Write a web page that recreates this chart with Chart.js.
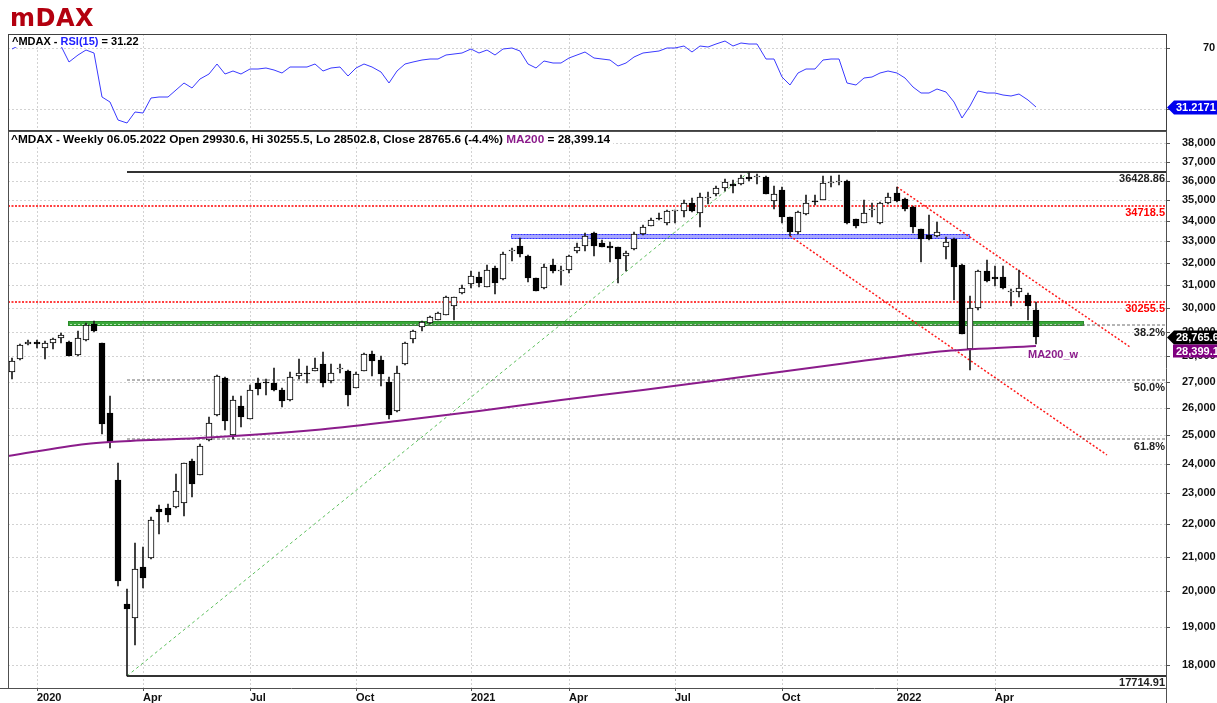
<!DOCTYPE html>
<html><head><meta charset="utf-8">
<script src="https://cdn.jsdelivr.net/npm/chart.js@4.4.1/dist/chart.umd.min.js"></script>
<style>
html,body{margin:0;padding:0;background:#fff;}
#wrap{position:relative;width:1217px;height:703px;overflow:hidden;background:#fff;}
canvas{position:absolute;left:0;top:0;}
#title{position:absolute;left:10px;top:6px;font:bold 24px 'DejaVu Sans',sans-serif;line-height:24px;color:#b3000f;letter-spacing:0.5px;}
</style></head>
<body><div id="wrap">
<canvas id="main" width="1217" height="703"></canvas>
<canvas id="rsi" width="1217" height="703"></canvas>
<div id="title">mDAX</div>
</div>
<script>
// ---------- DATA ----------
const opens = [27384,27880,28480,28570,28310,28520,28730,28560,28040,28650,
29300,28520,25800,23450,19620,19230,20700,20960,22500,22540,
22570,22680,24100,23620,24830,25720,27120,25020,26080,25600,
26960,27000,26960,26660,26280,27220,27320,27420,27670,27030,
27470,27420,26750,27420,28070,27850,26990,25870,27680,28690,
29200,29360,29500,29710,30090,30640,31045,31380,30925,31760,
31260,32560,32790,32330,31300,30860,31900,31620,31680,32570,
32790,33420,32920,32800,32730,32310,32640,33360,33740,34140,
33900,34480,34450,34860,34370,35100,35310,35610,35830,35830,
36210,36170,36210,34990,35530,34170,33430,34320,34950,35020,
35880,35930,36000,34060,33900,34500,33870,34860,35360,35070,
34670,33580,33310,33270,32760,33120,31910,28280,29990,31650,
31350,31380,30680,30680,30550,29930.6];
const highs = [27910,28500,28640,28640,28610,28740,28950,28600,29040,29380,
29440,28550,26440,24020,20050,21420,21300,22230,22610,22640,
23650,24030,24150,24680,25680,27260,27190,26440,26440,26850,
27120,27110,27520,26750,27370,27870,27600,27940,28170,27700,
27700,27450,27380,28110,28200,28000,27190,27600,28580,29060,
29450,29650,29830,30500,30480,31000,31640,31600,31910,31860,
32510,32690,33150,32350,31320,31950,32190,31860,32350,32920,
33390,33450,33070,32990,32760,32570,33450,33790,34130,34390,
34510,34520,35020,35100,35360,35440,35720,36100,36040,36300,
36428.86,36330,36250,35730,35700,34200,34450,35280,35280,36240,
36240,36300,36020,34100,35020,34860,34930,35390,35670,35100,
34700,33600,34300,33950,33230,33150,31950,30520,31700,32140,
31860,31860,30810,31680,30660,30255.5];
const lows = [27086,27860,28440,28340,27900,28270,28520,27990,28000,28620,
28990,25060,24530,20150,17714.91,18520,20100,20950,21710,22090,
22540,22280,22880,23600,24800,25700,25200,24850,25300,25580,
26500,26500,26640,26050,26260,27100,26960,27400,26780,26960,
27350,26060,26740,27400,27220,26820,25590,25850,27660,28540,
29010,29300,29480,29700,29500,30600,30860,30900,30900,30610,
31240,32100,32270,31150,30720,30840,31530,31000,31530,32450,
32530,32310,32720,32060,31080,31650,32600,33310,33720,34040,
33790,33900,34190,34420,33700,34800,35200,35500,35390,35800,
36000,35830,35320,34570,33900,33260,33350,34280,34770,35000,
35700,35780,33860,33630,33880,34190,33850,34840,34900,34450,
33390,32060,33080,33200,32190,30340,28900,27450,29910,31150,
30950,30840,30100,30460,29470,28502.8];
const closes = [27804,28470,28570,28480,28520,28710,28870,28000,28730,29270,
29010,25400,24770,20290,19500,20650,20370,22150,22390,22290,
23080,24010,23330,24620,25440,27230,25530,26310,25650,26660,
26710,26960,26660,26250,27160,27350,27300,27530,26930,27350,
27540,26480,27280,28070,27800,27290,25740,27350,28550,29040,
29400,29610,29800,30465,30465,30860,31395,31080,31680,31100,
32420,32620,32420,31300,30740,31800,31640,31650,32330,32760,
33280,32790,32760,32710,32190,32460,33360,33710,34030,34060,
34490,34500,34860,34490,35190,35190,35610,35950,35730,36120,
36070,36190,35330,35330,34190,33430,34420,34860,34910,35880,
35920,35960,33870,33740,34390,34540,34860,35160,34990,34570,
33680,33120,33120,33450,32990,31830,28920,29990,31640,31200,
31260,30860,30710,30860,30100,28765.6];
const rsi15 = [69.1,72,74,73,73,74,71,61.0,65.4,68.7,
66.5,37.9,34.8,22.8,21.0,27.8,27.2,37.0,38.1,38.1,
42.5,46.9,44.0,49.5,52.8,59.3,53.0,55.1,52.8,56.0,
56.0,57.1,55.6,53.8,57.3,57.7,57.7,59.3,55.1,57.1,
57.7,51.8,56.7,59.3,57.3,54.3,46.9,54.9,59.3,61.0,
62.1,62.6,62.6,65.1,66.1,66.9,69.1,66.5,68.7,65.1,
69.3,70.3,68.0,59.8,56.7,61.3,60.4,60.0,63.2,65.4,
67.1,63.2,62.8,62.1,58.2,60.0,64.3,66.5,67.6,68.0,
69.8,70.2,71.3,67.6,71.3,70.9,72.6,74.6,71.3,73.5,
72.6,72.6,62.6,62.6,51.2,45.7,53.4,56.0,56.2,62.1,
62.8,62.6,46.9,45.7,50.1,50.8,53.4,55.1,53.8,50.1,
44.2,40.7,40.7,43.3,41.0,34.8,24.3,32.0,42.0,40.7,
40.7,39.0,38.5,39.8,35.9,31.22];
const maIdx  = [-0.49, 9, 12, 23, 37, 47, 57, 67, 77, 90, 102, 114, 125];
const maVals = [24276, 24672, 24759, 24897, 25185, 25530, 25890, 26302, 26680, 27216, 27740, 28208, 28399.14];
const xTickIdx = [3, 16, 29, 42, 56, 68, 81, 94, 108, 120];
const xTickLabels = ['2020','Apr','Jul','Oct','2021','Apr','Jul','Oct','2022','Apr'];
const priceTicks = [18000,19000,20000,21000,22000,23000,24000,25000,26000,27000,28000,29000,30000,31000,32000,33000,34000,35000,36000,37000,38000];
const rsiTicks = [30, 70];
const fibHigh = 36428.86, fibLow = 17714.91;
const fibRatios = [0.382, 0.5, 0.618];
const fibLabels = ['38.2%', '50.0%', '61.8%'];
const redLevels = [34718.5, 30255.5];
const blueZone = [60.9, 117, 33095, 33360];
const greenZone = [6.85, 130.9, 29250, 29440];
const greenTrend = [[14, 17714.91], [90, 36428.86]];
const redTrendA = [[108, 35670], [136.5, 28380]];
const redTrendB = [[95, 33240], [133.7, 24310]];
const lastRsi = 31.2171;
const ma200Last = 28399.14;
const mainHeader = [['^MDAX - Weekly 06.05.2022 Open 29930.6, Hi 30255.5, Lo 28502.8, Close 28765.6 (-4.4%) ', '#000'], ['MA200', '#8b1c8b'], [' = 28,399.14', '#000']];
const rsiHeader = [['^MDAX - ', '#000'], ['RSI(15)', '#2020ff'], [' = 31.22', '#000']];

// ---------- STYLE ----------
const FONT = "'Liberation Sans', Arial, sans-serif";
const X_MIN = -0.49, X_MAX = 140.9;
const P_MIN = 17405, P_MAX = 38659;
const R_MIN = 16.23, R_MAX = 79.18;
const PURPLE = '#8b1c8b';

function segText(ctx, segs, x, y) {
  let cx = x;
  for (const [s, c] of segs) { ctx.fillStyle = c; ctx.fillText(s, cx, y); cx += ctx.measureText(s).width; }
  return cx - x;
}
function label(ctx, s, x, y, color, align) {
  ctx.save(); ctx.font = 'bold 11px ' + FONT; ctx.fillStyle = color; ctx.textAlign = align || 'left';
  ctx.textBaseline = 'middle'; ctx.fillText(s, x, y); ctx.restore();
}
function tag(ctx, s, yc, fill, arrow, left) {
  ctx.save();
  ctx.fillStyle = fill;
  ctx.beginPath();
  if (arrow) {
    ctx.moveTo(1167, yc); ctx.lineTo(1174, yc - 7); ctx.lineTo(1217, yc - 7); ctx.lineTo(1217, yc + 7); ctx.lineTo(1174, yc + 7);
  } else {
    ctx.rect(left, yc - 6.5, 1217 - left, 13);
  }
  ctx.closePath(); ctx.fill();
  ctx.font = 'bold 11px ' + FONT; ctx.fillStyle = '#fff'; ctx.textBaseline = 'middle';
  ctx.fillText(s, arrow ? 1176 : left + 3, yc + 0.5);
  ctx.restore();
}
function noPad(s) { s.paddingTop = 0; s.paddingBottom = 0; s.paddingLeft = 0; s.paddingRight = 0; }

const lineDs = (pts, color, width, dash, order) => ({
  type: 'line', data: pts.map(p => ({x: p[0], y: p[1]})), borderColor: color, borderWidth: width,
  borderDash: dash, pointRadius: 0, order: order, fill: false, tension: 0
});

const xScaleCommon = (showTicks, h) => ({
  type: 'linear', min: X_MIN, max: X_MAX, offset: false, alignToPixels: true,
  afterBuildTicks: s => { s.ticks = xTickIdx.map(v => ({value: v})); },
  afterFit: s => { s.height = h; noPad(s); },
  ticks: { display: showTicks, align: 'start', padding: 0, maxRotation: 0, autoSkip: false,
    color: '#111', font: {family: FONT, size: 11, weight: 'bold'},
    callback: (v, i) => xTickLabels[i] },
  grid: { offset: false, color: '#d2d2d2', lineWidth: 1, drawTicks: showTicks, tickLength: 3, tickColor: '#555', tickBorderDash: [] },
  border: { display: false, dash: [2, 2] }
});

// ---------- MAIN CHART ----------
const N = opens.length;
const bodyData = opens.map((o, i) => ({x: i, y: [o, closes[i]]}));
const wickData = lows.map((l, i) => ({x: i, y: [l, highs[i]]}));
const bodyColors = opens.map((o, i) => closes[i] >= o ? '#ffffff' : '#000000');

const datasets = [
  {type: 'bar', data: bodyData, backgroundColor: bodyColors, borderColor: '#000', borderWidth: 1,
   borderSkipped: false, barThickness: 6, grouped: false, minBarLength: 1, order: 1},
  {type: 'bar', data: wickData, backgroundColor: '#1a1a1a', borderWidth: 0, barThickness: 1, grouped: false, order: 2},
  {type: 'line', data: maIdx.map((x, k) => ({x: x, y: maVals[k]})), borderColor: PURPLE, borderWidth: 2,
   pointRadius: 0, cubicInterpolationMode: 'monotone', order: 0, fill: false},
  lineDs([[14, fibHigh], [X_MAX, fibHigh]], '#333', 2, [], 5),
  lineDs([[14, fibLow], [X_MAX, fibLow]], '#333', 2, [], 5),
  ...fibRatios.map(r => lineDs([[14, fibHigh - r * (fibHigh - fibLow)], [X_MAX, fibHigh - r * (fibHigh - fibLow)]], '#6a6a6a', 1, [3, 2], 5)),
  ...redLevels.map(v => lineDs([[X_MIN, v], [X_MAX, v]], '#ff0000', 1.5, [2, 1.5], 5)),
  lineDs(greenTrend, '#5cbf5c', 1, [3, 3], 5),
  lineDs(redTrendA, '#ff1a1a', 1.5, [2, 2], 5),
  lineDs(redTrendB, '#ff1a1a', 1.5, [2, 2], 5)
];

const mainPlugin = {
  id: 'mainDecor',
  beforeDatasetsDraw(chart) {
    const {ctx, scales: {x, y}, chartArea: a} = chart;
    ctx.save();
    ctx.beginPath(); ctx.rect(a.left, a.top, a.right - a.left, a.bottom - a.top); ctx.clip();
    // blue zone
    let x1 = x.getPixelForValue(blueZone[0]), x2 = x.getPixelForValue(blueZone[1]);
    let y1 = y.getPixelForValue(blueZone[3]), y2 = y.getPixelForValue(blueZone[2]);
    ctx.fillStyle = 'rgba(110,110,255,0.6)'; ctx.fillRect(x1, y1, x2 - x1, y2 - y1);
    ctx.setLineDash([2, 1]); ctx.strokeStyle = '#3030ff'; ctx.lineWidth = 1;
    ctx.strokeRect(x1 + 0.5, y1 + 0.5, x2 - x1 - 1, y2 - y1 - 1);
    // green zone
    x1 = x.getPixelForValue(greenZone[0]); x2 = x.getPixelForValue(greenZone[1]);
    y1 = y.getPixelForValue(greenZone[3]); y2 = y.getPixelForValue(greenZone[2]);
    ctx.setLineDash([]);
    ctx.fillStyle = '#3aa83a'; ctx.fillRect(x1, y1, x2 - x1, y2 - y1);
    ctx.strokeStyle = '#2a8a2a'; ctx.strokeRect(x1 + 0.5, y1 + 0.5, x2 - x1 - 1, y2 - y1 - 1);
    ctx.setLineDash([2, 2]); ctx.strokeStyle = '#b8e8b8';
    ctx.beginPath(); const ym = Math.round((y1 + y2) / 2) + 0.5; ctx.moveTo(x1 + 2, ym); ctx.lineTo(x2 - 2, ym); ctx.stroke();
    ctx.restore();
  },
  afterDatasetsDraw(chart) {
    const {ctx, scales: {x, y}, chartArea: a} = chart;
    const rx = a.right - 1;
    label(ctx, fibHigh.toFixed(2), rx, y.getPixelForValue(fibHigh) + 7, '#222', 'right');
    label(ctx, fibLow.toFixed(2), rx, y.getPixelForValue(fibLow) + 7, '#222', 'right');
    fibRatios.forEach((r, k) => {
      const v = fibHigh - r * (fibHigh - fibLow);
      label(ctx, fibLabels[k], rx, y.getPixelForValue(v) + 8, '#222', 'right');
    });
    redLevels.forEach(v => label(ctx, String(v), rx, y.getPixelForValue(v) + 7, '#ff0000', 'right'));
    label(ctx, 'MA200_w', x.getPixelForValue(maIdx[maIdx.length - 1] - 1), y.getPixelForValue(ma200Last) + 9, PURPLE, 'left');
  },
  afterDraw(chart) {
    const {ctx, scales: {y}, chartArea: a} = chart;
    ctx.save();
    ctx.strokeStyle = '#505050'; ctx.lineWidth = 1; ctx.setLineDash([]);
    ctx.beginPath();
    ctx.moveTo(a.left, a.top + 0.5); ctx.lineTo(a.right, a.top + 0.5);
    ctx.moveTo(a.left + 0.5, a.top); ctx.lineTo(a.left + 0.5, a.bottom);
    ctx.moveTo(0, a.bottom + 0.5); ctx.lineTo(a.right, a.bottom + 0.5);
    ctx.moveTo(a.right + 0.5, 34); ctx.lineTo(a.right + 0.5, 703);
    ctx.stroke();
    // header
    ctx.font = 'bold 11.8px ' + FONT; ctx.textBaseline = 'middle';
    let w = 0; for (const [s] of mainHeader) w += ctx.measureText(s).width;
    ctx.fillStyle = '#fff'; ctx.fillRect(a.left + 1, a.top + 1, w + 5, 14);
    segText(ctx, mainHeader, a.left + 3, a.top + 8.5);
    ctx.restore();
    // tags
    const yc = Math.round(y.getPixelForValue(closes[N - 1])) + 0.5;
    tag(ctx, closes[N - 1].toLocaleString('en-US', {minimumFractionDigits: 1}), yc, '#000', true);
    tag(ctx, ma200Last.toLocaleString('en-US', {maximumFractionDigits: 1, minimumFractionDigits: 1}), yc + 13.5, '#800080', false, 1173);
  }
};

new Chart(document.getElementById('main'), {
  type: 'bar',
  data: { datasets: datasets },
  options: {
    responsive: false, animation: false, events: [],
    layout: { padding: { left: 8, top: 131, right: 0, bottom: 0 } },
    plugins: { legend: { display: false }, tooltip: { enabled: false } },
    scales: {
      x: xScaleCommon(true, 15),
      y: {
        type: 'logarithmic', position: 'right', min: P_MIN, max: P_MAX, beginAtZero: false, alignToPixels: true,
        afterBuildTicks: s => { s.ticks = priceTicks.map(v => ({value: v})); },
        afterFit: s => { s.width = 51; noPad(s); },
        ticks: { padding: 12, crossAlign: 'near', color: '#111', font: {family: FONT, size: 11, weight: 'bold'},
          callback: v => Number(v).toLocaleString('en-US') },
        grid: { color: '#d2d2d2', lineWidth: 1, drawTicks: true, tickLength: 4, tickColor: '#555', tickBorderDash: [] },
        border: { display: false, dash: [2, 2] }
      }
    }
  },
  plugins: [mainPlugin]
});

// ---------- RSI CHART ----------
const rsiPlugin = {
  id: 'rsiDecor',
  afterDraw(chart) {
    const {ctx, scales: {y}, chartArea: a} = chart;
    ctx.save();
    ctx.strokeStyle = '#404040'; ctx.lineWidth = 1;
    ctx.strokeRect(a.left + 0.5, a.top + 0.5, a.right - a.left, a.bottom - a.top);
    ctx.font = 'bold 11px ' + FONT; ctx.textBaseline = 'middle';
    let w = 0; for (const [s] of rsiHeader) w += ctx.measureText(s).width;
    ctx.fillStyle = '#fff'; ctx.fillRect(a.left + 1, a.top + 1, w + 5, 12);
    segText(ctx, rsiHeader, a.left + 4, a.top + 7.5);
    ctx.restore();
    tag(ctx, String(lastRsi), Math.round(y.getPixelForValue(lastRsi)) + 0.5, '#0000ee', true);
  }
};

new Chart(document.getElementById('rsi'), {
  type: 'line',
  data: { datasets: [{ data: rsi15.map((v, i) => ({x: i, y: v})), borderColor: '#3a3aff', borderWidth: 1, pointRadius: 0, tension: 0, fill: false }] },
  options: {
    responsive: false, animation: false, events: [],
    layout: { padding: { left: 8, top: 34, right: 0, bottom: 573 } },
    plugins: { legend: { display: false }, tooltip: { enabled: false } },
    scales: {
      x: xScaleCommon(false, 0),
      y: {
        type: 'linear', position: 'right', min: R_MIN, max: R_MAX, alignToPixels: true,
        afterBuildTicks: s => { s.ticks = rsiTicks.map(v => ({value: v})); },
        afterFit: s => { s.width = 51; noPad(s); },
        ticks: { padding: 33, crossAlign: 'near', color: '#111', font: {family: FONT, size: 11, weight: 'bold'} },
        grid: { color: '#d2d2d2', lineWidth: 1, drawTicks: true, tickLength: 4, tickColor: '#555', tickBorderDash: [] },
        border: { display: false, dash: [2, 2] }
      }
    }
  },
  plugins: [rsiPlugin]
});
</script>
</body></html>
